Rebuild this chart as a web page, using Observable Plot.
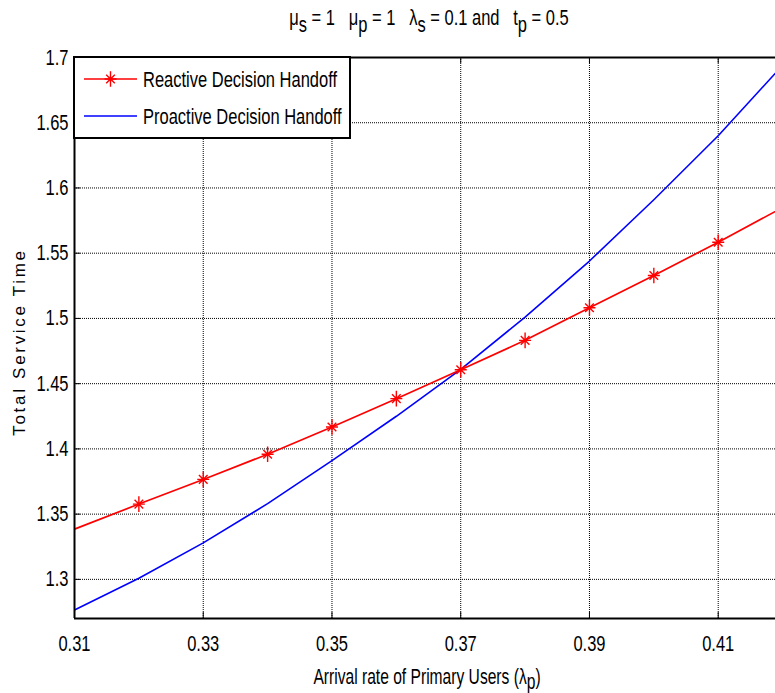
<!DOCTYPE html>
<html>
<head>
<meta charset="utf-8">
<script src="https://cdn.jsdelivr.net/npm/d3@7"></script>
<script src="https://cdn.jsdelivr.net/npm/@observablehq/plot@0.6"></script>
<style>
  html, body { margin: 0; padding: 0; background: #fff; overflow: hidden; }
  #chart svg { display: block; }
</style>
</head>
<body>
<div id="chart"></div>
<script>
// ---- data ----
const arrivalRates = [0.31, 0.32, 0.33, 0.34, 0.35, 0.36, 0.37, 0.38, 0.39, 0.40, 0.41, 0.42];
const reactiveTime = [1.3385, 1.3577, 1.3766, 1.3959, 1.4168, 1.4385, 1.4607, 1.4832, 1.5082, 1.5329, 1.5584, 1.5850];
const proactiveTime = [1.2765, 1.3008, 1.3280, 1.3580, 1.3910, 1.4250, 1.4610, 1.5010, 1.5440, 1.5910, 1.6400, 1.6940];
const markerRates = [0.32, 0.33, 0.34, 0.35, 0.36, 0.37, 0.38, 0.39, 0.40, 0.41];
const xTicks = [0.31, 0.33, 0.35, 0.37, 0.39, 0.41];
const yTicks = [1.3, 1.35, 1.4, 1.45, 1.5, 1.55, 1.6, 1.65, 1.7];
const seriesNames = ["Reactive Decision Handoff", "Proactive Decision Handoff"];

const reactiveData = arrivalRates.map((x, i) => ({x, y: reactiveTime[i]}));
const proactiveData = arrivalRates.map((x, i) => ({x, y: proactiveTime[i]}));
const markerData = markerRates.map(x => ({x, y: reactiveTime[arrivalRates.findIndex(v => Math.abs(v - x) < 1e-9)]}));

const SANS = "'Liberation Sans', Arial, sans-serif";
const FS = 22;          // font size
const CONDENSE = 0.75;  // horizontal squeeze to mimic Arial Narrow

// MATLAB-like asterisk marker (+ and x combined)
const matlabStar = {
  draw(context, size) {
    const r = Math.sqrt(size / Math.PI);
    context.moveTo(0, -r * 1.3); context.lineTo(0, r * 1.3);
    context.moveTo(-r, 0); context.lineTo(r, 0);
    const d = r * 0.72;
    context.moveTo(-d, -d); context.lineTo(d, d);
    context.moveTo(-d, d); context.lineTo(d, -d);
  }
};

const W = 775, H = 693, mT = 57, mL = 74, mR = 0, mB = 75;
const plotH = H - mT - mB, plotW = W - mL - mR;

const chart = Plot.plot({
  width: W, height: H,
  marginTop: mT, marginLeft: mL, marginRight: mR, marginBottom: mB,
  x: {domain: [0.31, 0.4189]},
  y: {domain: [1.27, 1.7]},
  style: {fontFamily: SANS, fontSize: FS + "px", color: "#000", background: "#fff"},
  marks: [
    Plot.gridX(xTicks, {stroke: "#000", strokeOpacity: 1, strokeDasharray: "1,1"}),
    Plot.gridY(yTicks, {stroke: "#000", strokeOpacity: 1, strokeDasharray: "1,1"}),
    Plot.axisX(xTicks, {tickSize: 0, tickPadding: 17, tickFormat: d => d.toFixed(2), label: null, fontSize: FS}),
    Plot.axisY(yTicks, {tickSize: 0, tickPadding: 6, tickFormat: d => String(+d.toFixed(2)), label: null, fontSize: FS}),
    Plot.tickX(xTicks, {x: d => d, insetTop: plotH - 6, stroke: "#000"}),
    Plot.tickX(xTicks, {x: d => d, insetBottom: plotH - 6, stroke: "#000"}),
    Plot.tickY(yTicks, {y: d => d, insetRight: plotW - 6, stroke: "#000"}),
    Plot.line(proactiveData, {x: "x", y: "y", stroke: "#0000ff", strokeWidth: 1.6, clip: true}),
    Plot.line(reactiveData, {x: "x", y: "y", stroke: "#ff0000", strokeWidth: 1.7, clip: true}),
    Plot.dot(markerData, {x: "x", y: "y", symbol: matlabStar, r: 6, stroke: "#ff0000", strokeWidth: 1.4}),
    Plot.ruleX([0.31], {stroke: "#000", strokeWidth: 2}),
    Plot.ruleY([1.27], {stroke: "#000", strokeWidth: 2}),
    Plot.ruleY([1.7], {stroke: "#000", strokeWidth: 2})
  ]
});

document.getElementById("chart").appendChild(chart);

// condense Plot's axis tick labels horizontally (Arial Narrow look)
d3.select(chart).selectAll("g[aria-label$='tick label'] text").each(function() {
  const t = d3.select(this);
  const tr = t.attr("transform") || "";
  t.attr("transform", tr + ` scale(${CONDENSE},1)`);
});

const svg = d3.select(chart);

// text with subscripts, condensed
function richText(g, parts, x, y, anchor, size, sub = 6, squeeze = CONDENSE) {
  const t = g.append("text")
    .attr("transform", `translate(${x},${y}) scale(${squeeze},1)`)
    .attr("text-anchor", anchor)
    .attr("font-family", SANS)
    .attr("font-size", size)
    .attr("fill", "#000")
    .style("white-space", "pre");
  let shifted = false;
  parts.forEach(p => {
    const isSub = Array.isArray(p);
    const s = t.append("tspan").text(isSub ? p[0] : p);
    if (isSub && !shifted) { s.attr("dy", sub); shifted = true; }
    else if (!isSub && shifted) { s.attr("dy", -sub); shifted = false; }
  });
  return t;
}

richText(svg, ["\u03bc", ["s"], " = 1   \u03bc", ["p"], " = 1   \u03bb", ["s"], " = 0.1 and   t", ["p"], " = 0.5"],
  429, 25, "middle", FS, 7);

richText(svg, ["Arrival rate of Primary Users (\u03bb", ["p"], ")"], 427, 684, "middle", FS, 5, 0.71);

svg.append("text")
  .attr("transform", "translate(25,342) rotate(-90)")
  .attr("text-anchor", "middle")
  .attr("font-family", SANS)
  .attr("font-size", 17)
  .attr("letter-spacing", 2.7)
  .attr("fill", "#000")
  .text("Total Service Time");

// Legend
const lg = svg.append("g");
lg.append("rect").attr("x", 74).attr("y", 57).attr("width", 276).attr("height", 81)
  .attr("fill", "#fff").attr("stroke", "#000").attr("stroke-width", 2);
const rows = [{name: seriesNames[0], color: "#ff0000", y: 79, star: true},
              {name: seriesNames[1], color: "#0000ff", y: 116, star: false}];
rows.forEach(r => {
  lg.append("line").attr("x1", 84).attr("x2", 137).attr("y1", r.y).attr("y2", r.y)
    .attr("stroke", r.color).attr("stroke-width", 1.7);
  if (r.star) {
    lg.append("path").attr("d", d3.symbol(matlabStar, Math.PI * 6 * 6)())
      .attr("transform", `translate(110.5,${r.y})`)
      .attr("fill", "none").attr("stroke", r.color).attr("stroke-width", 1.4);
  }
  richText(lg, [r.name], 143, r.y + 8, "start", FS);
});
</script>
</body>
</html>
